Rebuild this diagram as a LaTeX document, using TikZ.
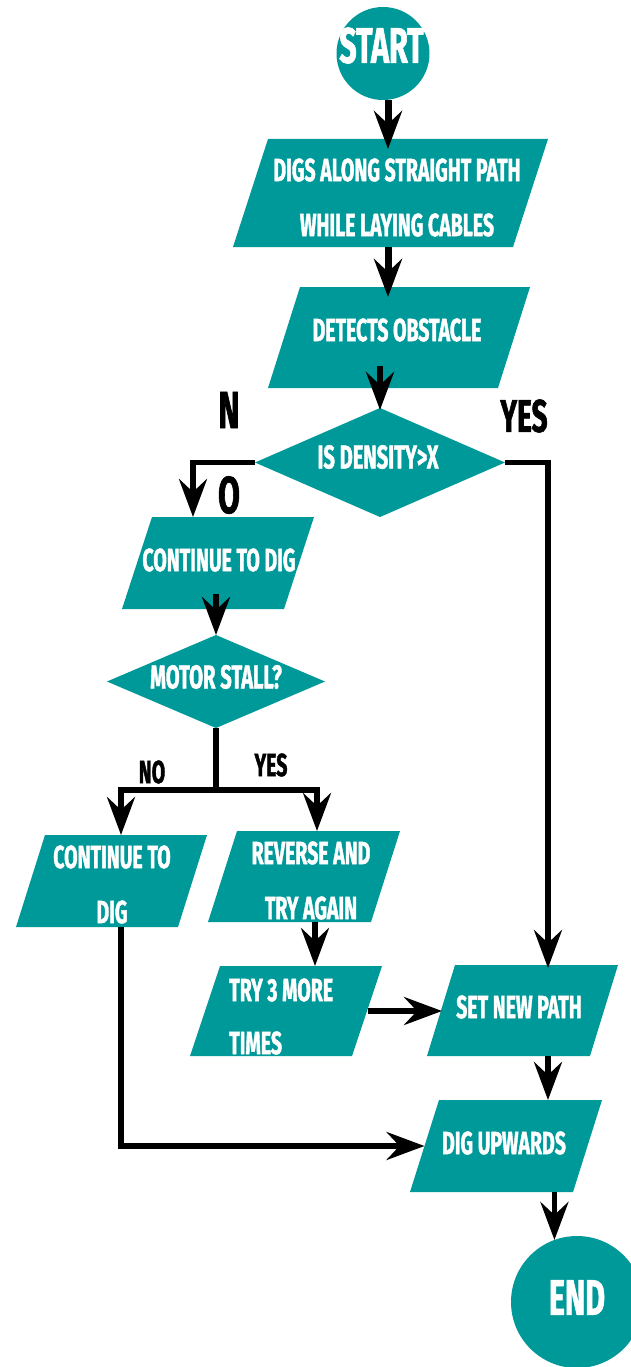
\documentclass[tikz,border=0pt]{standalone}
\usepackage{fontspec}
\newfontfamily\bebas{Fira Sans}[FakeStretch=0.61,FakeBold=1.2]
\usetikzlibrary{arrows.meta}
\definecolor{tealc}{RGB}{0,153,153}
\begin{document}
\begin{tikzpicture}[x=1pt,y=-1pt,
  arr/.style={line width=5.5pt, -{Stealth[length=38pt,width=28pt,inset=13pt]}},
  conn/.style={line width=5.5pt},
  para/.style n args={3}{minimum width=#1, minimum height=#2, inner sep=0pt, outer sep=0pt,
    path picture={\fill[tealc] ([xshift=#3]path picture bounding box.north west) -- (path picture bounding box.north east) -- ([xshift=-#3]path picture bounding box.south east) -- (path picture bounding box.south west) -- cycle;}},
  dia/.style 2 args={minimum width=#1, minimum height=#2, inner sep=0pt, outer sep=0pt,
    path picture={\fill[tealc] (path picture bounding box.north) -- (path picture bounding box.east) -- (path picture bounding box.south) -- (path picture bounding box.west) -- cycle;}},
  term/.style={circle, fill=tealc, minimum size=#1, inner sep=0pt, outer sep=0pt},
  wtxt/.style={text=white, inner sep=0pt, align=center, font=\bebas\bfseries\fontsize{32}{55}\selectfont},
  ktxt/.style={text=black, inner sep=0pt, font=\bebas\bfseries\fontsize{32}{40}\selectfont}
]
\useasboundingbox (0,0) rectangle (631,1367);
\fill[white] (0,0) rectangle (631,1367);

% shapes
\node[term=93] (start) at (383,53.5) {};
\node[para={315pt}{108pt}{35pt}] (b1) at (390.5,193) {};
\node[para={262pt}{101pt}{32pt}] (b2) at (399,337.5) {};
\node[dia={250pt}{109pt}] (d1) at (380,462.5) {};
\node[para={192pt}{92pt}{30pt}] (b3) at (218,563) {};
\node[dia={218pt}{93pt}] (d2) at (216,681.5) {};
\node[para={191pt}{92pt}{29pt}] (b4) at (111.5,881) {};
\node[para={192pt}{91pt}{29pt}] (b5) at (304,876.5) {};
\node[para={192pt}{90pt}{30pt}] (b6) at (286,1011) {};
\node[para={191pt}{91pt}{28pt}] (b7) at (522.5,1010.5) {};
\node[para={192pt}{92pt}{29pt}] (b8) at (506,1146) {};
\node[term=132] (end) at (577,1302) {};

% texts
\node[wtxt, font=\bebas\bfseries\fontsize{50}{55}\selectfont] (tstart) at (381.5,45.5) {START};
\node[wtxt] (t1) at (397,197.5) {DIGS ALONG STRAIGHT PATH\\WHILE LAYING CABLES};
\node[wtxt] (t2) at (397,330) {DETECTS OBSTACLE};
\node[wtxt, font=\bebas\bfseries\fontsize{33}{55}\selectfont] (t3) at (378,457) {IS DENSITY>X};
\node[wtxt] (t4) at (219,560) {CONTINUE TO DIG};
\node[wtxt, font=\bebas\bfseries\fontsize{33}{55}\selectfont] (t5) at (216,677) {MOTOR STALL?};
\node[wtxt] (t6) at (112,884.5) {CONTINUE TO\\DIG};
\node[wtxt] (t7) at (311,880.5) {REVERSE AND\\TRY AGAIN};
\node[wtxt, align=left, anchor=west, font=\bebas\bfseries\fontsize{32}{53}\selectfont] (t8) at (229,1016.5) {TRY 3 MORE\\TIMES};
\node[wtxt] (t9) at (519,1007) {SET NEW PATH};
\node[wtxt] (t10) at (504,1143) {DIG UPWARDS};
\node[wtxt, font=\bebas\bfseries\fontsize{50}{55}\selectfont] (tend) at (577,1297.5) {END};

% labels
\node[ktxt, font=\bebas\bfseries\fontsize{52}{60}\selectfont] (lN) at (229,410) {N};
\node[ktxt, font=\bebas\bfseries\fontsize{52}{60}\selectfont] (lO) at (229,495) {O};
\node[ktxt, font=\bebas\bfseries\fontsize{46}{60}\selectfont] (lYes1) at (524,416) {YES};
\node[ktxt] (lNo) at (152,772) {NO};
\node[ktxt] (lYes2) at (271,765) {YES};

% connectors
\coordinate (split) at (216,790);
\draw[arr, line width=7pt] ([xshift=5pt]start.south) -- ([xshift=-2.5pt,yshift=-10pt]b1.north);
\draw[arr, line width=7pt] ([xshift=-2.5pt]b1.south) -- ([xshift=-11pt,yshift=-10pt]b2.north);
\draw[arr] ([yshift=22pt]b2.south -| d1.north) -- ([yshift=-2pt]d1.north);
\draw[arr] (d1.west) -| ([xshift=-25pt]b3.north);
\draw[arr] (d1.east) -| ([xshift=25.5pt,yshift=-3pt]b7.north);
\draw[arr] ([yshift=15pt]b3.south -| d2.north) -- (d2.north);
\draw[conn] (d2.south) -- (split);
\draw[arr] (split) -| ([xshift=9.5pt]b4.north);
\draw[arr] (split) -| ([xshift=13pt]b5.north);
\draw[arr] ([xshift=11pt]b5.south) -- ([xshift=29pt]b6.north);
\draw[arr] ([xshift=-14pt]b6.east) -- ([xshift=15pt]b7.west |- b6.east);
\draw[arr] ([xshift=25.5pt]b7.south) -- ([xshift=42pt]b8.north);
\draw[arr] ([xshift=9.5pt]b4.south) |- ([xshift=14.5pt]b8.west);
\draw[arr] (b8.south -| end.110) -- (end.110);
\end{tikzpicture}
\end{document}
